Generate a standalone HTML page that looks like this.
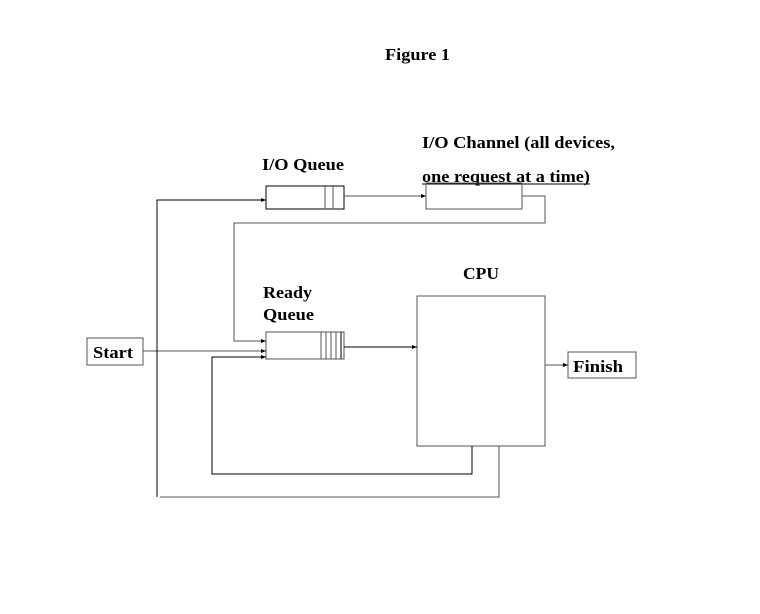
<!DOCTYPE html>
<html><head><style>
body{margin:0;background:#fff;}
svg text{font-family:"Liberation Serif",serif;font-weight:bold;fill:#000;}
</style></head><body>
<svg width="760" height="609" xmlns="http://www.w3.org/2000/svg">
<defs><marker id="a" markerWidth="6" markerHeight="6" refX="5" refY="3" orient="auto"><path d="M0,1 L5,3 L0,5 z" fill="#000"/></marker></defs>
<g fill="none" stroke="#555" stroke-width="1">
<g stroke="none" font-size="17">
<text x="385" y="60" textLength="65" lengthAdjust="spacingAndGlyphs">Figure 1</text>
<text x="262" y="170" textLength="82" lengthAdjust="spacingAndGlyphs">I/O Queue</text>
<text x="422" y="148" textLength="193" lengthAdjust="spacingAndGlyphs">I/O Channel (all devices,</text>
<text x="422" y="182" textLength="168" lengthAdjust="spacingAndGlyphs">one request at a time)</text>
<text x="463" y="279" textLength="36" lengthAdjust="spacingAndGlyphs">CPU</text>
<text x="263" y="298" textLength="49" lengthAdjust="spacingAndGlyphs">Ready</text>
<text x="263" y="320" textLength="51" lengthAdjust="spacingAndGlyphs">Queue</text>
<text x="93" y="358" textLength="40" lengthAdjust="spacingAndGlyphs">Start</text>
<text x="573" y="372" textLength="50" lengthAdjust="spacingAndGlyphs">Finish</text>
</g>
<line x1="422" y1="184" x2="590" y2="184" stroke="#000"/>
<rect x="266" y="186" width="78" height="23" stroke="#000"/>
<line x1="325" y1="186" x2="325" y2="209"/><line x1="333" y1="186" x2="333" y2="209"/>
<rect x="426" y="183" width="96" height="26"/>
<rect x="266" y="332" width="78" height="27"/>
<line x1="321" y1="332" x2="321" y2="359"/><line x1="326" y1="332" x2="326" y2="359"/><line x1="331" y1="332" x2="331" y2="359"/><line x1="336" y1="332" x2="336" y2="359"/><line x1="341" y1="332" x2="341" y2="359" stroke="#000"/>
<rect x="417" y="296" width="128" height="150"/>
<rect x="87" y="338" width="56" height="27"/>
<rect x="568" y="352" width="68" height="26"/>
<polyline points="344,196 426,196" marker-end="url(#a)"/>
<polyline points="522,196 545,196 545,223 234,223 234,341 266,341" marker-end="url(#a)"/>
<polyline points="143,351 266,351" marker-end="url(#a)"/>
<polyline points="472,446 472,474 212,474 212,357 266,357" marker-end="url(#a)" stroke="#000"/>
<polyline points="499,446 499,497 160,497"/>
<polyline points="157,497 157,200 266,200" stroke="#000" marker-end="url(#a)"/>
<polyline points="344,347 417,347" stroke="#000" marker-end="url(#a)"/>
<polyline points="545,365 568,365" marker-end="url(#a)"/>
</g>
</svg>
</body></html>
